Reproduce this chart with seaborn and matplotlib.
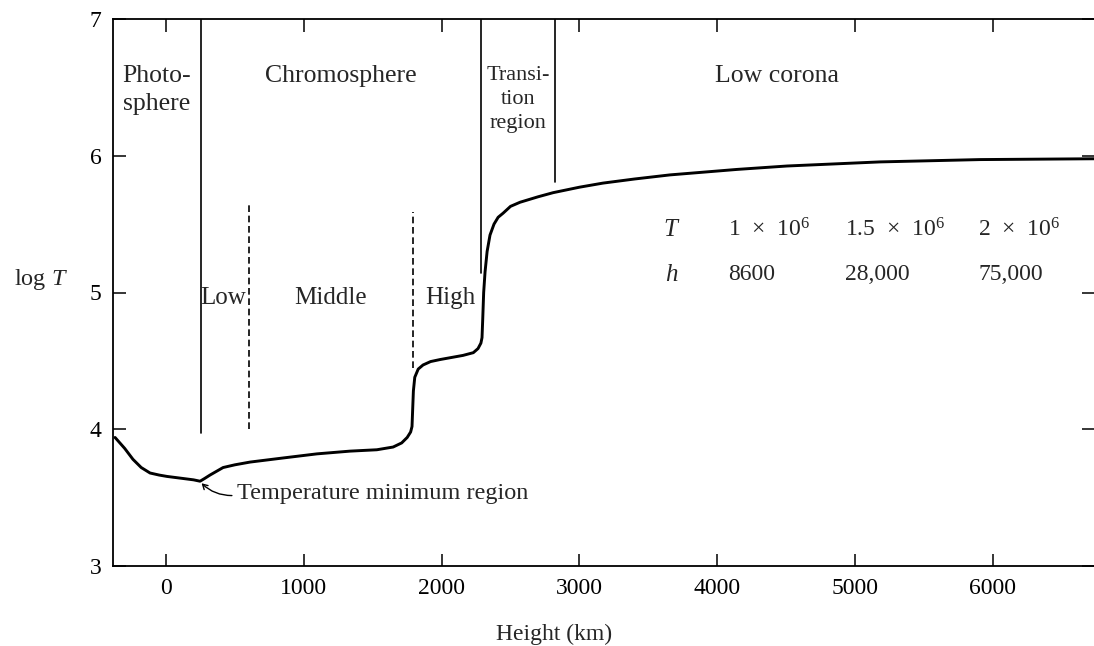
import matplotlib
matplotlib.use("Agg")
import matplotlib.pyplot as plt
import seaborn as sns
import pandas as pd

# ---- data ----
height_km = [-370, -300, -240, -180, -116, -50, 7, 123, 200, 247, 280, 319, 414, 500, 610,
             850, 1095, 1335, 1530, 1648, 1710, 1750, 1775, 1785, 1790, 1795, 1805, 1830,
             1865, 1920, 1990, 2155, 2230, 2264, 2285, 2293, 2298, 2305, 2315, 2330, 2351,
             2380, 2410, 2446, 2500, 2569, 2700, 2809, 3000, 3171, 3400, 3657, 4143, 4506,
             5181, 5907, 6734]
log_T = [3.94, 3.86, 3.78, 3.72, 3.68, 3.665, 3.655, 3.64, 3.63, 3.62, 3.64, 3.665, 3.72,
         3.74, 3.76, 3.79, 3.82, 3.84, 3.85, 3.87, 3.90, 3.94, 3.98, 4.02, 4.15, 4.28, 4.38,
         4.44, 4.47, 4.495, 4.51, 4.54, 4.56, 4.59, 4.63, 4.67, 4.80, 5.00, 5.15, 5.30, 5.42,
         5.50, 5.55, 5.58, 5.63, 5.66, 5.70, 5.73, 5.77, 5.80, 5.83, 5.86, 5.90, 5.925,
         5.955, 5.972, 5.978]

x_ticks = [0, 1000, 2000, 3000, 4000, 5000, 6000]
y_ticks = [3, 4, 5, 6, 7]

# region boundaries
solid_bounds_h = [254, 2286, 2823]
solid_bounds_ymin = [3.97, 5.14, 5.81]
dashed_bounds_h = [602, 1792]
dashed_bounds_ymin = [4.00, 4.45]
dashed_bounds_ymax = [5.65, 5.59]

table_T = ["1  ×  10$^6$", "1.5  ×  10$^6$", "2  ×  10$^6$"]
table_h = ["8600", "28,000", "75,000"]
table_cols_km = [4078, 4927, 5893]

# ---- style ----
sns.set_style("ticks")
plt.rcParams["font.family"] = ["Liberation Serif", "DejaVu Serif"]
plt.rcParams["mathtext.fontset"] = "custom"
plt.rcParams["mathtext.rm"] = "Liberation Serif"
plt.rcParams["mathtext.it"] = "Liberation Serif:italic"

fig = plt.figure(figsize=(10.94, 6.46), dpi=100)
ax = fig.add_axes([112.7 / 1094, 1 - 566 / 646, 1 - 112.7 / 1094, (566 - 19) / 646])

df = pd.DataFrame({"h": height_km, "logT": log_T})
sns.lineplot(data=df, x="h", y="logT", ax=ax, color="black", lw=2.1,
             estimator=None, sort=False)

ax.set_xlim(-387, 6734)
ax.set_ylim(3, 7)
ax.set_xticks(x_ticks)
ax.set_yticks(y_ticks)
ax.tick_params(direction="in", length=9, width=1.1, labelsize=17, pad=9,
               top=True, right=True, colors="black")
ax.tick_params(axis="y", pad=8)
for s in ["left", "bottom", "top"]:
    ax.spines[s].set_linewidth(1.3)
    ax.spines[s].set_color("black")
ax.spines["right"].set_visible(False)

ax.set_xlabel("Height (km)", fontsize=17, labelpad=14)
ax.set_ylabel("log $T$", fontsize=17.5, rotation=0, labelpad=0)
ax.yaxis.set_label_coords(-0.073, 0.5)
ax.xaxis.set_label_coords(0.45, -0.105)

# boundaries
for h, y0 in zip(solid_bounds_h, solid_bounds_ymin):
    ax.plot([h, h], [y0, 7], color="black", lw=1.2)
for h, y0, y1 in zip(dashed_bounds_h, dashed_bounds_ymin, dashed_bounds_ymax):
    ax.plot([h, h], [y0, y1], color="black", lw=1.2, linestyle=(0, (4, 2.2)))

fs = 18.5
ax.text(-65, 6.48, "Photo-\nsphere", ha="center", va="center", fontsize=fs, linespacing=1.33)
ax.text(1270, 6.585, "Chromosphere", ha="center", va="center", fontsize=fs)
ax.text(2554, 6.41, "Transi-\ntion\nregion", ha="center", va="center", fontsize=16,
        linespacing=1.37)
ax.text(4434, 6.585, "Low corona", ha="center", va="center", fontsize=fs)
ax.text(414, 4.96, "Low", ha="center", va="center", fontsize=18)
ax.text(1197, 4.96, "Middle", ha="center", va="center", fontsize=18)
ax.text(2061, 4.96, "High", ha="center", va="center", fontsize=18)

ax.text(3672, 5.46, "$T$", ha="center", va="center", fontsize=18)
ax.text(3672, 5.13, "$h$", ha="center", va="center", fontsize=18)
for xk, t, hv in zip(table_cols_km, table_T, table_h):
    ax.text(xk, 5.46, t, ha="left", va="center", fontsize=17)
    ax.text(xk, 5.13, hv, ha="left", va="center", fontsize=17)

ax.text(515, 3.53, "Temperature minimum region", ha="left", va="center", fontsize=17.5)
ax.annotate("", xy=(258, 3.605), xytext=(478, 3.515),
            arrowprops=dict(arrowstyle="->,head_length=0.35,head_width=0.2", color="black",
                            lw=1.0, connectionstyle="arc3,rad=-0.2", shrinkA=0, shrinkB=0))

fig.savefig("out.png", dpi=100)
